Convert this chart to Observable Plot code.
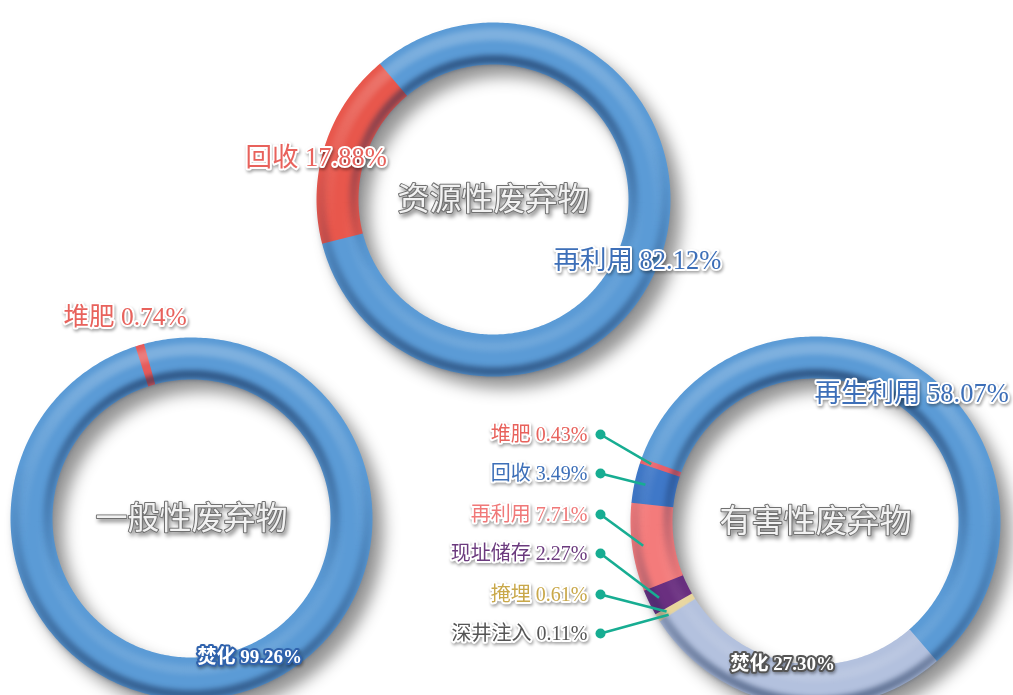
<!DOCTYPE html>
<html><head><meta charset="utf-8">
<script src="https://cdn.jsdelivr.net/npm/d3@7"></script>
<script src="https://cdn.jsdelivr.net/npm/@observablehq/plot@0.6"></script>
<style>
html,body{margin:0;padding:0;background:#fff;overflow:hidden;}
</style></head><body><div id="chart"></div>
<script>
// ---------- data ----------
const ringNames = ["资源性废弃物", "一般性废弃物", "有害性废弃物"];
const resCats = ["再利用", "回收"];
const resVals = [82.12, 17.88];
const genCats = ["焚化", "堆肥"];
const genVals = [99.26, 0.74];
const hazCats = ["再生利用", "焚化", "深井注入", "掩埋", "现址储存", "再利用", "回收", "堆肥"];
const hazVals = [58.07, 27.30, 0.11, 0.61, 2.27, 7.71, 3.49, 0.43];

// ---------- layout & styles ----------
const W = 1013, H = 695;
const RING_W = 42;
const rings = [
  {name: ringNames[0], cats: resCats, vals: resVals, cx: 493, cy: 199, r: 156, start: -40,
   colors: ["#5b9bd6", "#e8574c"]},
  {name: ringNames[1], cats: genCats, vals: genVals, cx: 191, cy: 518, r: 160, start: -15.3,
   colors: ["#5b9bd6", "#e65a5a"]},
  {name: ringNames[2], cats: hazCats, vals: hazVals, cx: 815, cy: 521, r: 164, start: -70,
   colors: ["#5b9bd6", "#b3c1de", "#d8d0b4", "#e8d59c", "#6a2f80", "#f47b7b", "#3f78c8", "#e8606a"]}
];
// free-placed labels: [ring index, category index, x, y, size, fill, stroke, weight]
const labelPlace = [
  [0, 1, 245, 157, 26.5, "#e8625c", "white", "normal"],
  [0, 0, 553, 260, 26.5, "#3d6fb8", "white", "normal"],
  [1, 1, 63, 316, 25.5, "#e8625c", "white", "normal"],
  [1, 0, 197, 656, 19, "white", "#2f62ad", "bold"],
  [2, 0, 814, 393, 26.5, "#3d6fb8", "white", "normal"],
  [2, 1, 730, 663, 19, "white", "#555", "bold"]
];
// leader labels for small hazardous categories: [category index, label y, color]
const leaderPlace = [
  [7, 434, "#e8625c"],
  [6, 473, "#3d6fb8"],
  [5, 514, "#f07878"],
  [4, 553, "#6b3a7e"],
  [3, 594, "#c9a84a"],
  [2, 633, "#555555"]
];
const LEADER_X = 600, LEADER_TEXT_X = 587, LEADER_R = 174;
const TEAL = "#17ad92";

// ---------- geometry from data ----------
const rad = d => d * Math.PI / 180;
function pt(ring, angDeg, r) {
  return {x: ring.cx + r * Math.sin(rad(angDeg)), y: ring.cy - r * Math.cos(rad(angDeg))};
}
const segRows = [];
const segInfo = [];
rings.forEach((ring, ri) => {
  const total = d3.sum(ring.vals);
  let a = ring.start;
  segInfo[ri] = [];
  ring.vals.forEach((v, ci) => {
    const a0 = a, a1 = a + v / total * 360;
    segInfo[ri][ci] = [a0, a1];
    const e0 = a0 - 0.12, e1 = a1 + 0.12;
    const n = Math.max(2, Math.ceil((e1 - e0) / 0.8));
    for (let k = 0; k <= n; k++) {
      const p = pt(ring, e0 + (e1 - e0) * k / n, ring.r);
      segRows.push({key: ri + "-" + ci, x: p.x, y: p.y, color: ring.colors[ci]});
    }
    a = a1;
  });
});
function circleRows(offset) {
  const rows = [];
  rings.forEach((ring, ri) => {
    for (let k = 0; k <= 360; k += 2) {
      const p = pt(ring, k, ring.r + offset);
      rows.push({key: ri, x: p.x, y: p.y});
    }
  });
  return rows;
}
const innerShade = circleRows(-16);
const outerShade = circleRows(16);
const outerHi = circleRows(9);
const innerHi = circleRows(-9);

const labelRows = labelPlace.map(([ri, ci, x, y, size, fill, stroke, weight]) => ({
  text: `${rings[ri].cats[ci]} ${rings[ri].vals[ci].toFixed(2)}%`,
  x, y, size, fill, stroke, weight
}));
const leaderRows = leaderPlace.map(([ci, y, color]) => {
  const [a0, a1] = segInfo[2][ci];
  const p = pt(rings[2], (a0 + a1) / 2, LEADER_R);
  return {text: `${hazCats[ci]} ${hazVals[ci].toFixed(2)}%`, y, color, x2: p.x, y2: p.y};
});
const titleRows = rings.map(r => ({text: r.name, x: r.cx, y: r.cy}));

const serif = "'Liberation Serif','Noto Sans CJK SC',serif";

const plot = Plot.plot({
  width: W, height: H,
  margin: 0,
  x: {domain: [0, W], range: [0, W], axis: null},
  y: {domain: [0, H], range: [0, H], axis: null},
  color: {type: "identity"},
  style: {background: "white"},
  marks: [
    Plot.line(segRows, {x: "x", y: "y", z: "key", stroke: "color", strokeWidth: RING_W,
      strokeLinecap: "butt", strokeLinejoin: "round"}),
    Plot.line(outerHi, {x: "x", y: "y", z: "key", stroke: "url(#hiTop)", strokeWidth: 12}),
    Plot.line(innerHi, {x: "x", y: "y", z: "key", stroke: "url(#hiBottom)", strokeWidth: 10}),
    Plot.line(innerShade, {x: "x", y: "y", z: "key", stroke: "url(#darkTop)", strokeWidth: 9}),
    Plot.line(outerShade, {x: "x", y: "y", z: "key", stroke: "url(#darkBottom)", strokeWidth: 9}),
    Plot.link(leaderRows, {x1: LEADER_X, y1: "y", x2: "x2", y2: "y2", stroke: TEAL, strokeWidth: 2.6}),
    Plot.dot(leaderRows, {x: LEADER_X, y: "y", r: 5, fill: TEAL, stroke: "none"}),
    Plot.text(titleRows, {x: "x", y: "y", text: "text", fontSize: 32, fill: "#f2f2f2", stroke: "#707070",
      strokeWidth: 2, fontFamily: "'Noto Sans CJK SC',sans-serif"}),
    Plot.text(labelRows, {x: "x", y: "y", text: "text", textAnchor: "start", fontSize: d => d.size,
      fill: "fill", stroke: "stroke", strokeWidth: 4, fontFamily: serif}),
    Plot.text(leaderRows, {x: LEADER_TEXT_X, y: "y", text: "text", textAnchor: "end", fontSize: 20,
      fill: "color", stroke: "white", strokeWidth: 4, fontFamily: serif})
  ]
});

const svg = d3.select(plot);
const defs = svg.insert("defs", ":first-child");
function grad(id, stops) {
  const g = defs.append("linearGradient").attr("id", id).attr("x1", 0).attr("y1", 0).attr("x2", 0).attr("y2", 1);
  stops.forEach(([o, c, op]) => g.append("stop").attr("offset", o).attr("stop-color", c).attr("stop-opacity", op));
}
grad("darkTop", [[0, "#10264d", 0.55], [0.45, "#10264d", 0.25], [0.75, "#10264d", 0.0], [1, "#10264d", 0]]);
grad("darkBottom", [[0, "#10264d", 0], [0.35, "#10264d", 0.0], [0.7, "#10264d", 0.25], [1, "#10264d", 0.5]]);
grad("hiTop", [[0, "#ffffff", 0.22], [0.4, "#ffffff", 0.06], [0.6, "#ffffff", 0], [1, "#ffffff", 0]]);
grad("hiBottom", [[0, "#ffffff", 0], [0.5, "#ffffff", 0], [1, "#ffffff", 0.12]]);

const lineGroups = plot.querySelectorAll('g[aria-label="line"]');
const textGroups = plot.querySelectorAll('g[aria-label="text"]');
if (lineGroups[0]) lineGroups[0].style.filter = "drop-shadow(11px 12px 8px rgba(0,0,0,0.42))";
for (let i = 1; i < lineGroups.length; i++) lineGroups[i].style.filter = "blur(2.5px)";
if (textGroups[0]) textGroups[0].style.filter = "drop-shadow(2px 3px 2px rgba(0,0,0,0.45))";
if (textGroups[1]) {
  textGroups[1].style.filter = "drop-shadow(1.5px 2px 1.5px rgba(0,0,0,0.35))";
  textGroups[1].querySelectorAll("text").forEach((t, i) => { if (labelRows[i]) t.setAttribute("font-weight", labelRows[i].weight); });
}
if (textGroups[2]) textGroups[2].style.filter = "drop-shadow(1.5px 2px 1.5px rgba(0,0,0,0.35))";
document.getElementById("chart").appendChild(plot);
</script></body></html>
